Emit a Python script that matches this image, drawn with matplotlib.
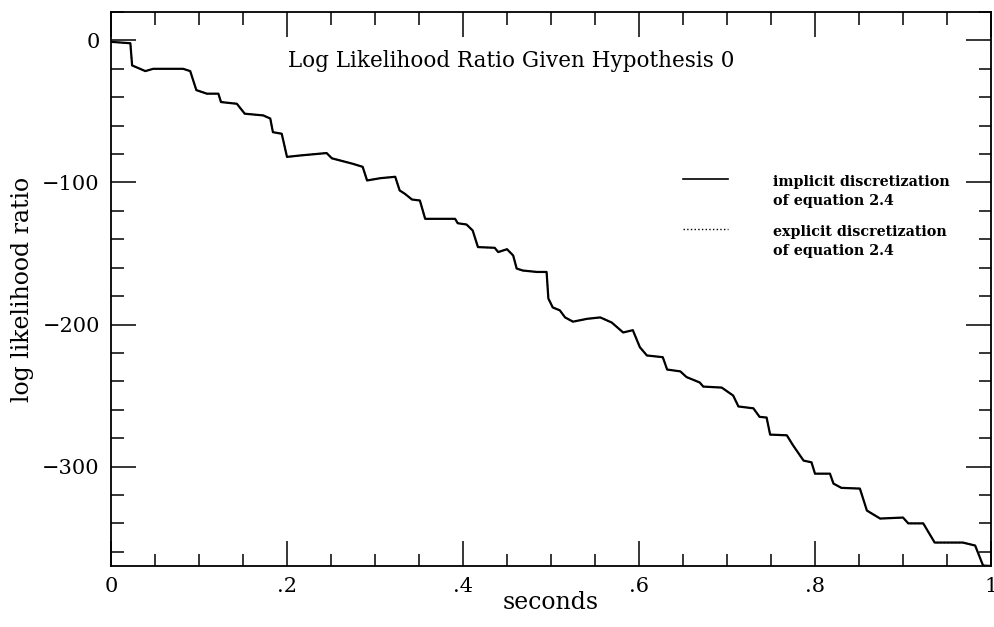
import numpy as np
import matplotlib
matplotlib.use("Agg")
import matplotlib.pyplot as plt
from matplotlib.ticker import MultipleLocator

# values
t = [0, 0.022, 0.024, 0.039, 0.048, 0.082, 0.090, 0.097, 0.109, 0.122, 0.125,
     0.143, 0.152, 0.173, 0.181, 0.184, 0.194, 0.200, 0.215, 0.245, 0.251,
     0.275, 0.286, 0.291, 0.306, 0.323, 0.328, 0.334, 0.342, 0.351, 0.357,
     0.391, 0.394, 0.404, 0.411, 0.417, 0.436, 0.440, 0.450, 0.457, 0.461,
     0.468, 0.484, 0.495, 0.497, 0.502, 0.510, 0.516, 0.525, 0.541, 0.556,
     0.569, 0.582, 0.593, 0.601, 0.609, 0.627, 0.632, 0.647, 0.654, 0.669,
     0.673, 0.694, 0.707, 0.713, 0.730, 0.737, 0.745, 0.749, 0.768, 0.775,
     0.787, 0.796, 0.800, 0.817, 0.821, 0.830, 0.851, 0.859, 0.874, 0.900,
     0.906, 0.923, 0.936, 0.968, 0.982, 0.991, 1.0]
implicit = [-1, -2, -17.6, -21.6, -20, -20, -21.6, -35, -37.5, -37.5, -43.4,
            -44.6, -51.6, -52.8, -55, -64.6, -65.7, -82, -81, -79.3, -83,
            -86.9, -89, -98.6, -97, -96, -105.6, -108, -112, -112.7, -125.6,
            -125.6, -128.7, -129.6, -133.8, -145.5, -146, -149, -147, -151.4, -160.6,
            -162, -163, -163, -181.7, -188, -190, -195, -198, -196, -195,
            -198.6, -205.6, -204, -216, -221.8, -223, -231.7, -233, -237, -240.8,
            -243.7, -244.4, -250, -257.7, -259, -265, -265.5, -277.5, -278, -285,
            -295.8, -297, -305, -305, -312, -315, -315.5, -331, -336.6, -335.9,
            -340, -340, -353.5, -353.5, -355.6, -369.7, -370]
explicit = list(implicit)  # indistinguishable from the implicit curve

xticks = [0, 0.2, 0.4, 0.6, 0.8, 1.0]
xticklabels = ["0", ".2", ".4", ".6", ".8", "1"]
yticks = [0, -100, -200, -300]
labels = ["implicit discretization\nof equation 2.4",
          "explicit discretization\nof equation 2.4"]

plt.rcParams['font.family'] = ['DejaVu Serif']

fig = plt.figure(figsize=(9.94, 6.27), dpi=100)
ax = fig.add_axes([111 / 994, 61 / 627, 880 / 994, 554 / 627])

ax.plot(t, explicit, color="black", lw=1.0, ls=":")
ax.plot(t, implicit, color="black", lw=1.6)

ax.set_xlim(0, 1)
ax.set_ylim(-370, 20)
ax.set_xticks(xticks)
ax.set_xticklabels(xticklabels)
ax.set_yticks(yticks)
ax.xaxis.set_minor_locator(MultipleLocator(0.05))
ax.yaxis.set_minor_locator(MultipleLocator(20))
ax.tick_params(which="both", direction="in", top=True, right=True,
               width=1.1, labelsize=15, colors="black")
ax.tick_params(which="major", length=18)
ax.tick_params(which="minor", length=9)
ax.tick_params(axis="x", pad=8)
ax.tick_params(axis="y", pad=8)
for s in ax.spines.values():
    s.set_linewidth(1.3)

ax.set_xlabel("seconds", fontsize=17, labelpad=-4)
ax.set_ylabel("log likelihood ratio", fontsize=17, labelpad=6)

ax.text(0.4545, 0.9007, "Log Likelihood Ratio Given Hypothesis 0",
        transform=ax.transAxes, ha="center", va="baseline", fontsize=15.5)

# legend drawn by hand so the key lines up with the first text line
key_y = [0.6986, 0.6083]
styles = ["-", ":"]
for ky, st, lab in zip(key_y, styles, labels):
    ax.plot([0.65, 0.701], [ky, ky], transform=ax.transAxes, color="black",
            lw=1.0 if st == ":" else 1.2, ls=st)
    ax.text(0.752, ky + 0.008, lab, transform=ax.transAxes, ha="left",
            va="top", fontsize=10.3, fontweight="bold", linespacing=1.5)

fig.savefig("out.png", dpi=100)
